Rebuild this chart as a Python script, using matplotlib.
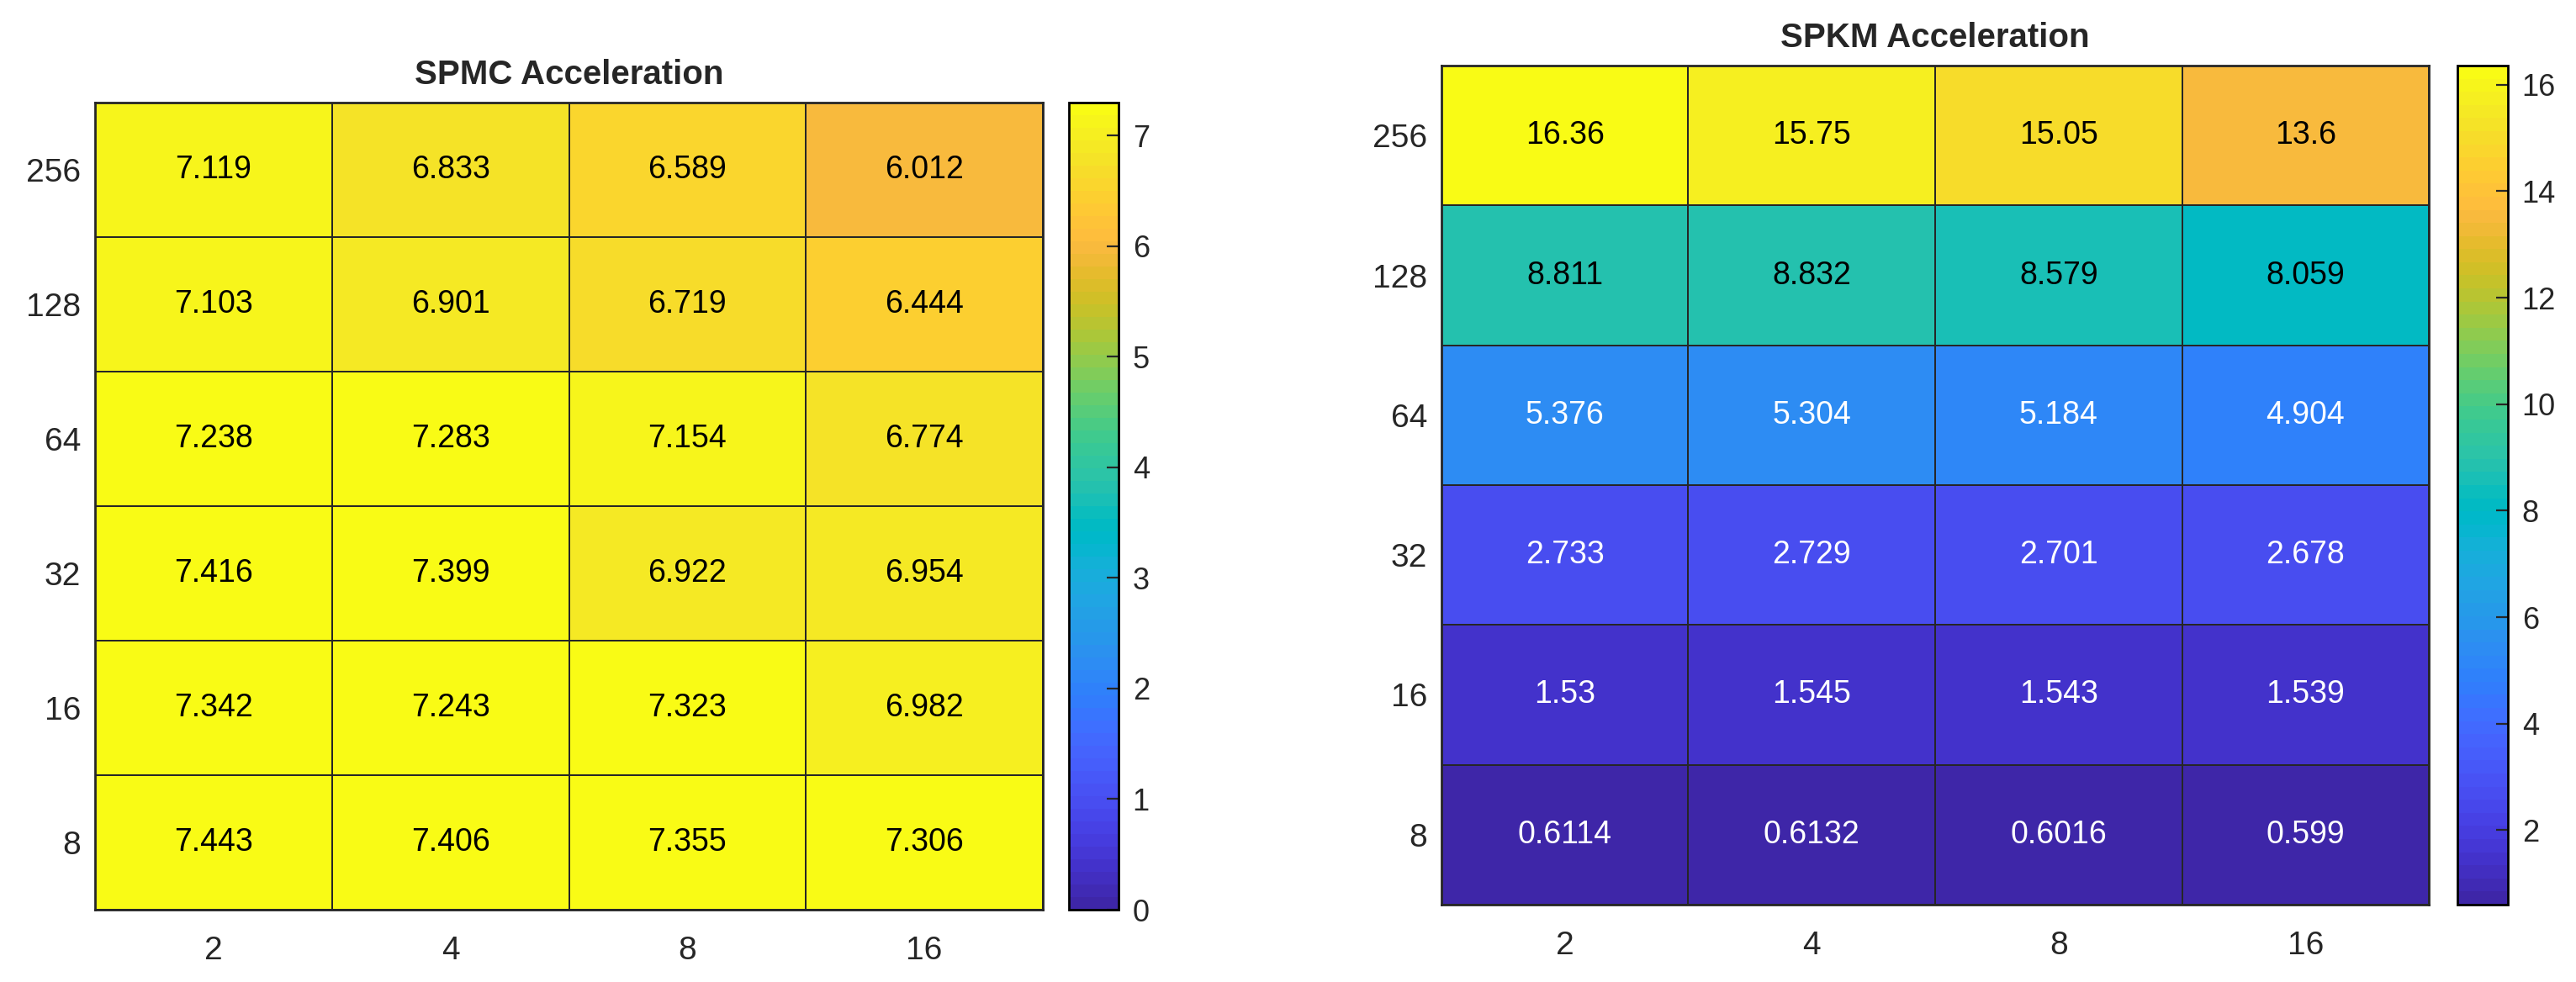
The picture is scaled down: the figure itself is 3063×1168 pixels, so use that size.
import numpy as np
import matplotlib
matplotlib.use("Agg")
import matplotlib.pyplot as plt
from matplotlib.colors import ListedColormap, Normalize

plt.rcParams['font.family'] = ['Liberation Sans', 'DejaVu Sans']

# rows top -> bottom, columns left -> right
row_labels = ['256', '128', '64', '32', '16', '8']
col_labels = ['2', '4', '8', '16']

spmc = [[7.119, 6.833, 6.589, 6.012],
        [7.103, 6.901, 6.719, 6.444],
        [7.238, 7.283, 7.154, 6.774],
        [7.416, 7.399, 6.922, 6.954],
        [7.342, 7.243, 7.323, 6.982],
        [7.443, 7.406, 7.355, 7.306]]

spkm = [[16.36, 15.75, 15.05, 13.6],
        [8.811, 8.832, 8.579, 8.059],
        [5.376, 5.304, 5.184, 4.904],
        [2.733, 2.729, 2.701, 2.678],
        [1.53, 1.545, 1.543, 1.539],
        [0.6114, 0.6132, 0.6016, 0.599]]

# MATLAB parula (64 entries)
parula_data = [
    [0.2422, 0.1504, 0.6603], [0.2504, 0.1650, 0.7076], [0.2578, 0.1818, 0.7511], [0.2647, 0.1978, 0.7952],
    [0.2706, 0.2147, 0.8364], [0.2751, 0.2342, 0.8710], [0.2783, 0.2559, 0.8991], [0.2803, 0.2782, 0.9221],
    [0.2813, 0.3006, 0.9414], [0.2810, 0.3228, 0.9579], [0.2795, 0.3447, 0.9717], [0.2760, 0.3667, 0.9829],
    [0.2699, 0.3892, 0.9906], [0.2602, 0.4123, 0.9952], [0.2440, 0.4358, 0.9988], [0.2206, 0.4603, 0.9973],
    [0.1963, 0.4847, 0.9892], [0.1834, 0.5074, 0.9798], [0.1786, 0.5289, 0.9682], [0.1764, 0.5499, 0.9520],
    [0.1687, 0.5703, 0.9359], [0.1540, 0.5902, 0.9218], [0.1460, 0.6091, 0.9079], [0.1380, 0.6276, 0.8973],
    [0.1248, 0.6459, 0.8883], [0.1113, 0.6635, 0.8763], [0.0952, 0.6798, 0.8598], [0.0689, 0.6948, 0.8394],
    [0.0297, 0.7082, 0.8163], [0.0036, 0.7203, 0.7917], [0.0067, 0.7312, 0.7660], [0.0433, 0.7411, 0.7394],
    [0.0964, 0.7500, 0.7120], [0.1408, 0.7584, 0.6842], [0.1717, 0.7670, 0.6554], [0.1938, 0.7758, 0.6251],
    [0.2161, 0.7843, 0.5923], [0.2470, 0.7918, 0.5567], [0.2906, 0.7973, 0.5188], [0.3406, 0.8008, 0.4789],
    [0.3909, 0.8029, 0.4354], [0.4456, 0.8024, 0.3909], [0.5044, 0.7993, 0.3480], [0.5616, 0.7942, 0.3045],
    [0.6174, 0.7876, 0.2612], [0.6720, 0.7793, 0.2227], [0.7242, 0.7698, 0.1910], [0.7738, 0.7598, 0.1646],
    [0.8203, 0.7498, 0.1535], [0.8634, 0.7406, 0.1596], [0.9035, 0.7330, 0.1774], [0.9393, 0.7288, 0.2100],
    [0.9728, 0.7298, 0.2394], [0.9956, 0.7434, 0.2371], [0.9970, 0.7659, 0.2199], [0.9952, 0.7893, 0.2028],
    [0.9892, 0.8136, 0.1885], [0.9786, 0.8386, 0.1766], [0.9676, 0.8639, 0.1643], [0.9610, 0.8890, 0.1537],
    [0.9597, 0.9135, 0.1423], [0.9628, 0.9373, 0.1265], [0.9691, 0.9606, 0.1064], [0.9769, 0.9839, 0.0805]]
parula = ListedColormap(parula_data, name='parula')

W, H = 3063, 1168
fig = plt.figure(figsize=(W / 200, H / 200), dpi=200)

def px_rect(x0, y0, x1, y1):
    return [x0 / W, (H - y1) / H, (x1 - x0) / W, (y1 - y0) / H]

grid_col = '#262626'


def heatmap(ax, cax, data, title, vmin, vmax, cticks):
    data = np.array(data)
    norm = Normalize(vmin=vmin, vmax=vmax)
    nr, nc = data.shape
    mesh = ax.pcolormesh(np.arange(nc + 1), np.arange(nr + 1), data[::-1],
                         cmap=parula, norm=norm, edgecolors=grid_col, linewidth=0.6)
    for i in range(nr):
        for j in range(nc):
            v = data[i, j]
            r, g, b, _ = parula(norm(v))
            lum = 0.299 * r + 0.587 * g + 0.114 * b
            ax.text(j + 0.5, nr - i - 0.5, '{:.4g}'.format(v), ha='center', va='center',
                    fontsize=13.5, color='white' if lum < 0.5 else 'black')
    ax.set_xlim(0, nc)
    ax.set_ylim(0, nr)
    ax.set_xticks(np.arange(nc) + 0.5)
    ax.set_xticklabels(col_labels)
    ax.set_yticks(np.arange(nr) + 0.5)
    ax.set_yticklabels(row_labels[::-1])
    ax.tick_params(axis='x', length=0, pad=11, labelsize=14, labelcolor='#262626')
    ax.tick_params(axis='y', length=0, pad=6, labelsize=14, labelcolor='#262626')
    for s in ax.spines.values():
        s.set_color(grid_col)
        s.set_linewidth(1.0)
    ax.set_title(title, fontsize=14.5, fontweight='bold', color='#262626', pad=8)

    cb = fig.colorbar(mesh, cax=cax)
    cb.set_ticks(cticks)
    cb.outline.set_edgecolor('black')
    cb.outline.set_linewidth(1.0)
    cax.tick_params(direction='in', length=5, width=0.8, color='#262626',
                    labelsize=13, labelcolor='#262626', pad=6)


ax1 = fig.add_axes(px_rect(113, 122, 1240, 1082))
cax1 = fig.add_axes(px_rect(1271, 122, 1330, 1082))
ax2 = fig.add_axes(px_rect(1714, 78, 2888, 1076))
cax2 = fig.add_axes(px_rect(2922, 78, 2982, 1076))

heatmap(ax1, cax1, spmc, 'SPMC Acceleration', 0, 7.3, range(0, 8))
heatmap(ax2, cax2, spkm, 'SPKM Acceleration', np.min(spkm), np.max(spkm), range(2, 17, 2))

fig.savefig('out.png', dpi=200)
